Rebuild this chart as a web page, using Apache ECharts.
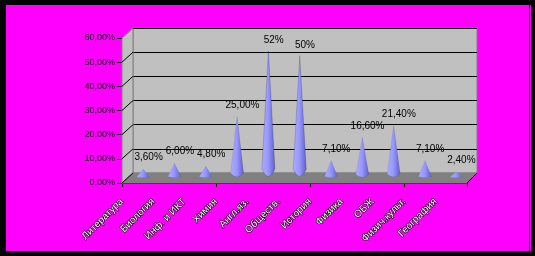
<!DOCTYPE html>
<html><head><meta charset="utf-8">
<script src="https://cdn.jsdelivr.net/npm/echarts@6/dist/echarts.min.js"></script>
<style>
html,body{margin:0;padding:0;}
#frame{position:relative;width:535px;height:256px;background:#000;overflow:hidden;}
#mag{position:absolute;left:6px;top:5px;width:523px;height:246px;background:#FF00FF;}
#mag2{position:absolute;left:530px;top:5px;width:1px;height:246px;background:#FF00FF;}
#chart{position:absolute;left:0;top:0;width:535px;height:256px;}
</style></head>
<body>
<div id="frame"><div id="mag"></div><div id="mag2"></div><div id="chart"></div></div>
<script>
var categories = ['Литература','Биология','Инф. и ИКТ','Химия','Англ.яз.','Обществ.','История','Физика','ОБЖ','Физич.культ.','География'];
var values = [3.6, 6, 4.8, 25, 52, 50, 7.1, 16.6, 21.4, 7.1, 2.4];
var valueLabels = ['3,60%','6,00%','4,80%','25,00%','52%','50%','7,10%','16,60%','21,40%','7,10%','2,40%'];
var yTicks = [0,10,20,30,40,50,60];

var chart = echarts.init(document.getElementById('chart'), null, {renderer:'canvas'});
var conePath = 'path://M0,94 L50,0 L100,94 Q50,106 0,94 Z';
var font = 'Arial, "Liberation Sans", sans-serif';

var option = {
  animation:false,
  backgroundColor:'transparent',
  grid:[
    {left:133, top:28, width:344, height:145, show:true, backgroundColor:'#C0C0C0', borderColor:'#808080', borderWidth:1, z:0},
    {left:122, top:38, width:345, height:145, show:false},
    {left:127.5, top:33, width:344.5, height:145, show:false},
    {left:106, top:38, width:345, height:145, show:false}
  ],
  xAxis:[
    {gridIndex:0, type:'category', data:categories, show:false},
    {gridIndex:1, type:'category', data:categories, axisLine:{lineStyle:{color:'#000',width:1}}, axisTick:{show:true, length:4, lineStyle:{color:'#000'}}, axisLabel:{show:false}},
    {gridIndex:2, type:'category', data:categories, show:false},
    {gridIndex:3, type:'category', data:categories, axisLine:{show:false}, axisTick:{show:false},
      axisLabel:{interval:0, rotate:45, margin:17, fontSize:10, fontFamily:font, color:'#ffffff', textBorderColor:'#000', textBorderWidth:1.2}}
  ],
  yAxis:[
    {gridIndex:0, type:'value', min:0, max:60, interval:10, axisLabel:{show:false}, axisLine:{show:false}, axisTick:{show:false}, splitLine:{show:true, lineStyle:{color:'#000', width:1}}},
    {gridIndex:1, type:'value', min:0, max:60, interval:10, splitLine:{show:false},
      axisLine:{show:true, lineStyle:{color:'#000', width:1}},
      axisTick:{show:true, length:5, lineStyle:{color:'#000'}},
      axisLabel:{margin:7, fontSize:9, fontFamily:font, color:'#000',
        formatter:function(v){return v.toFixed(2).replace('.',',')+'%';}}},
    {gridIndex:2, type:'value', min:0, max:60, show:false},
    {gridIndex:3, type:'value', min:0, max:60, show:false}
  ],
  series:[
    {type:'pictorialBar', xAxisIndex:2, yAxisIndex:2, data:values, symbol:conePath,
      symbolSize:[13,'100%'], symbolPosition:'start', z:5,
      itemStyle:{color:{type:'linear',x:0,y:0,x2:1,y2:0,colorStops:[{offset:0,color:'#aaaaff'},{offset:0.45,color:'#9999ff'},{offset:1,color:'#6060c8'}]}, borderColor:'#000', borderWidth:1}},
    {type:'bar', xAxisIndex:0, yAxisIndex:0, data:values, barWidth:1, itemStyle:{color:'rgba(0,0,0,0)'}, z:6,
      label:{show:true, position:'top', distance:2, fontSize:10, fontFamily:font, color:'#000',
        formatter:function(p){return valueLabels[p.dataIndex];}}}
  ]
};
chart.setOption(option);

var els = [];
var fx0 = 122, bx0 = 133;
var fxEnd = chart.convertToPixel({xAxisIndex:1}, categories.length-1) + 345/categories.length/2;
var bxEnd = chart.convertToPixel({xAxisIndex:0}, categories.length-1) + 344/categories.length/2;
var fy0 = chart.convertToPixel({yAxisIndex:1}, 0), by0 = chart.convertToPixel({yAxisIndex:0}, 0);
var fyTop = chart.convertToPixel({yAxisIndex:1}, 60), byTop = chart.convertToPixel({yAxisIndex:0}, 60);
els.push({type:'polygon', shape:{points:[[fx0,fy0],[fx0,fyTop],[bx0,byTop],[bx0,by0]]}, style:{fill:'#C0C0C0', stroke:'#808080', lineWidth:1}, z:1});
els.push({type:'polygon', shape:{points:[[fx0,fy0],[fxEnd,fy0],[bxEnd,by0],[bx0,by0]]}, style:{fill:'#808080', stroke:'#808080', lineWidth:1}, z:1});
yTicks.forEach(function(t){
  var fy = chart.convertToPixel({yAxisIndex:1}, t), by = chart.convertToPixel({yAxisIndex:0}, t);
  els.push({type:'line', shape:{x1:fx0, y1:fy, x2:bx0, y2:by}, style:{stroke: t===60 ? '#808080' : '#000', lineWidth:1}, z:2});
});
els.push({type:'line', shape:{x1:fxEnd, y1:fy0, x2:bxEnd, y2:by0}, style:{stroke:'#000', lineWidth:1}, z:2});
chart.setOption({graphic:{elements:els}});
</script>
</body></html>
